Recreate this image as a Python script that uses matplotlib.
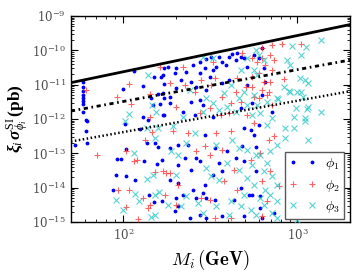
import numpy as np
import matplotlib
matplotlib.use("Agg")
import matplotlib.pyplot as plt
from matplotlib.ticker import LogLocator, NullFormatter

plt.rcParams['mathtext.fontset'] = 'cm'
plt.rcParams['font.family'] = ['DejaVu Serif']
plt.rcParams['mathtext.rm'] = 'Liberation Serif'
plt.rcParams['mathtext.it'] = 'Liberation Serif:italic'
plt.rcParams['mathtext.bf'] = 'Liberation Serif:bold'
plt.rcParams['mathtext.bfit'] = 'Liberation Serif:bold:italic'

# ---- data ----
# phi_1 : mass (GeV), log10(xi*sigma / pb)
m1 = [58.5, 58.5, 58.5, 58.5, 58.5, 58.5, 58.5, 58.5, 60.9, 115.8, 149.4, 164.1, 170.8, 100, 128.9, 170.8,
      157.6, 168.5, 170.8, 147.5, 161.9, 143.6, 170.8, 128.9,
      61.8, 102.7, 137.9, 60.9, 123.9, 61.8, 52.6, 136.1, 151.4, 157.6, 104, 92.3, 97.4, 130.6, 155.5, 166.3,
      91.1, 104, 117.4, 87.5, 139.8, 149.4, 166.3,
      180.2, 200.5, 168.5, 197.9, 251.9, 276.7, 299.8, 320.5, 352.0, 366.4, 402.5, 419.0, 448.1, 472.8, 492.2,
      442.1, 386.6, 342.6, 329.1, 295.9, 276.7, 229.3, 214.4, 245.3, 316.2, 366.4, 402.5, 512.4, 562.8, 200.5,
      262.3, 299.8, 245.3, 276.7, 288.0, 185.1, 220.3, 258.8, 329.1, 472.8, 547.9, 168.5, 185.1, 512.4,
      626.4, 601.8, 643.4, 652.1, 626.4, 716.2,
      185.1, 206.0, 235.6, 295.9, 338.1, 391.8, 479.2, 578.0, 492.2, 540.6, 562.8, 206.0, 226.3, 262.3, 276.7,
      352.0, 442.1, 492.2, 245.3, 366.4, 329.1, 578.0, 185.1, 206.0, 295.9, 472.8, 526.3, 547.9, 251.9, 288.0,
      299.8, 262.3, 200.5, 220.3, 338.1, 430.4, 206.0, 276.7, 299.8, 366.4, 492.2, 242.0, 197.9,
      601.8, 610, 610, 735.7, 626.4]
s1 = [-10.923, -11.068, -11.185, -11.301, -11.389, -11.476, -11.563, -11.796, -12.029, -10.602, -10.777, -10.777,
      -10.515, -11.126, -11.039, -10.981, -11.272, -11.243, -11.389, -11.593, -11.563, -11.389, -11.884, -11.942,
      -12.059, -12.146, -12.029, -12.350, -12.292, -12.699, -12.758, -12.699, -12.699, -12.816, -12.874, -13.165,
      -13.165, -13.224, -13.311, -13.195, -13.632, -13.661, -13.777, -14.068, -14.214, -14.418, -14.389,
      -10.486, -10.515, -10.719, -10.660, -10.427, -10.340, -10.253, -10.194, -10.194, -10.340, -10.194, -10.107,
      -10.078, -10.194, -10.223, -10.282, -10.427, -10.486, -10.573, -10.515, -10.660, -10.631, -10.864, -10.923,
      -10.777, -10.952, -10.864, -10.486, -10.136, -11.097, -11.068, -11.156, -11.505, -11.447, -11.593, -11.534,
      -11.796, -11.884, -11.942, -11.680, -11.534, -11.884, -11.360, -11.010,
      -9.932, -10.223, -10.515, -10.923, -11.301, -11.796,
      -12.845, -12.758, -12.758, -12.466, -12.845, -12.932, -12.787, -12.816, -12.262, -12.321, -12.466, -13.340,
      -13.136, -13.136, -13.224, -13.282, -13.136, -13.224, -13.486, -13.515, -13.632, -13.515, -13.777, -13.865,
      -13.923, -14.010, -14.214, -14.214, -14.068, -14.156, -14.301, -14.301, -14.301, -14.214, -14.360, -14.360,
      -14.535, -14.797, -14.884, -14.826, -14.826, -14.884, -14.680,
      -12.175, -14.243, -14.593, -14.738, -14.884]

# phi_2
m2 = [161.9, 108.4, 92.3, 141.6, 111.3, 141.6, 60.9,
      70.6, 104, 115.8, 119, 145.5, 132.4, 151.4, 168.5, 93.5, 108.4, 128.9, 104, 137.9, 141.6, 120.6,
      220.3, 329.1, 479.2, 547.9, 585.9, 185.1, 226.3, 280.4, 338.1, 448.1, 547.9, 258.8, 320.5, 366.4, 442.1,
      505.6, 547.9, 200.5, 316.2, 413.4, 472.8, 562.8, 276.7, 361.5, 512.4, 402.5,
      716.2, 818.2, 626.4, 1041, 697.3, 626.4, 735.7, 652.1, 716.2, 601.8, 643.4, 697.3, 840.4, 626.4, 669.8,
      688.0, 716.2, 601.8,
      192.6, 235.6, 342.6, 413.4, 562.8, 295.9, 262.3, 316.2, 366.4, 540.6, 185.1, 206.0, 430.4, 376.3, 173.1,
      280.4, 316.2, 200.5, 448.1, 413.4, 338.1, 175.4,
      735.7, 688.0, 610, 697.3, 626.4, 786.3, 669.8, 626.4]
s2 = [-10.486, -10.981, -11.360, -11.272, -11.563, -11.942, -11.156,
      -13.049, -12.932, -13.224, -13.195, -12.379, -12.612, -13.544, -13.515, -14.068, -14.068, -14.301, -14.564,
      -14.593, -14.505, -14.913,
      -10.486, -10.340, -10.078, -10.223, -10.340, -10.952, -11.010, -10.864, -10.806, -10.806, -10.777, -11.214,
      -11.010, -11.360, -11.214, -11.068, -11.068, -11.651, -11.680, -11.534, -11.505, -11.360, -11.826, -11.884,
      -11.884, -11.826,
      -9.845, -9.816, -9.932, -9.816, -10.136, -10.223, -10.282, -10.427, -10.573, -10.660, -10.923, -10.923,
      -10.835, -11.156, -11.301, -11.214, -11.593, -11.389,
      -12.350, -12.408, -12.408, -12.350, -12.117, -12.787, -12.932, -13.049, -12.903, -13.195, -13.573, -13.923,
      -13.486, -13.806, -14.214, -14.301, -14.360, -14.505, -14.068, -14.884, -14.884, -13.573,
      -12.495, -12.612, -12.991, -13.515, -13.806, -13.952, -14.389, -14.826]

# phi_3
m3 = [137.9, 145.5, 153.5, 108.4,
      102.7, 136.1, 157.6, 151.4, 115.8, 136.1, 147.5, 117.4, 122.2, 151.4, 159.7, 91.1, 100, 143.6, 151.4,
      288.0, 329.1, 512.4, 578.0, 562.8, 585.9, 472.8, 413.4, 492.2, 376.3, 299.8, 329.1, 460.3, 562.8, 391.8,
      512.4, 585.9, 288.0, 352.0, 442.1, 242.0, 547.9, 220.3,
      1361, 935.6, 1113, 1041, 601.8, 874.9, 910.8, 643.4, 1027, 1143, 840.4, 910.8, 1000, 1041, 1069, 765.5,
      1143, 669.8, 974, 610, 716.2, 1098, 1361,
      192.6, 258.8, 229.3, 187.6, 206.0, 342.6, 419.0, 460.3, 512.4, 578.0, 299.8, 391.8, 460.3, 547.9, 200.5,
      320.5, 352.0, 512.4, 562.8, 180.2, 229.3, 269.4, 342.6, 413.4, 472.8, 540.6, 214.4, 288.0, 402.5, 578.0,
      492.2,
      669.8, 851.8, 961, 851.8, 1143, 765.5, 610, 697.3, 669.8, 643.4, 716.2, 765.5, 652.1, 697.3, 765.5, 643.4,
      716.2, 765.5, 1000, 610,
      1098, 898.7, 1128, 961, 1098, 775.8]
s3 = [-10.719, -11.593, -11.796, -11.855,
      -12.059, -12.262, -12.262, -12.554, -12.991, -13.748, -13.632, -14.185, -14.389, -14.214, -14.127, -14.360,
      -14.651, -14.855, -14.797,
      -10.194, -10.223, -10.223, -9.990, -10.573, -10.719, -10.573, -11.010, -11.214, -11.243, -11.389, -11.534,
      -11.389, -11.301, -11.651, -11.593, -11.593, -11.796, -11.738, -11.796, -11.156, -11.884, -11.942,
      -9.699, -9.874, -9.903, -10.136, -10.136, -10.282, -10.427, -10.282, -10.806, -10.952, -11.068, -11.214,
      -11.214, -11.214, -11.360, -11.389, -11.651, -11.505, -11.680, -11.826, -11.971, -11.971, -11.796,
      -12.204, -12.408, -12.699, -12.932, -13.049, -12.758, -12.612, -12.845, -12.903, -13.049, -13.428, -13.282,
      -13.486, -13.340, -13.632, -13.661, -13.777, -13.719, -13.923, -14.505, -14.243, -14.447, -14.535, -14.389,
      -14.535, -14.651, -14.535, -14.738, -14.797, -14.797, -14.214,
      -12.175, -12.262, -12.262, -12.554, -12.612, -12.758, -13.049, -12.932, -13.282, -13.515, -13.661, -13.923,
      -14.068, -14.214, -14.389, -14.505, -14.738, -14.884, -14.942, -14.301,
      -10.864, -11.185, -11.709, -11.942, -12.059, -11.418]

# bound lines (mass endpoints, cross sections in pb)
line_m = [50, 2000]
solid_s = [1.14e-11, 5.6e-10]
dashdot_s = [1.7e-12, 5.2e-11]
dotted_s = [2.2e-13, 6.4e-12]

labels = [r'$\phi_1$', r'$\phi_2$', r'$\phi_3$']

# ---- plot ----
fig = plt.figure(figsize=(3.6, 2.75), dpi=100)
ax = fig.add_axes([0.197, 0.193, 0.775, 0.749])

ax.plot(m1, 10.0 ** np.array(s1), linestyle='none', marker='.', color='#0000ff', ms=3.5, label=labels[0], zorder=3)
ax.plot(m2, 10.0 ** np.array(s2), linestyle='none', marker='+', color='#ff3030', ms=5, mew=0.8, alpha=0.75,
        label=labels[1], zorder=3)
ax.plot(m3, 10.0 ** np.array(s3), linestyle='none', marker='x', color='#30c8c8', ms=4.5, mew=0.8, alpha=0.8,
        label=labels[2], zorder=3)

ax.plot(line_m, solid_s, color='k', lw=2.0, zorder=4)
ax.plot(line_m, dashdot_s, color='k', lw=2.0, linestyle=(0, (1.5, 1.3, 0.6, 1.3)), zorder=4)
ax.plot(line_m, dotted_s, color='k', lw=1.8, linestyle=(0, (0.6, 1.0)), zorder=4)

ax.set_xscale('log')
ax.set_yscale('log')
ax.set_xlim(50, 2000)
ax.set_ylim(1e-15, 1e-9)

ax.yaxis.set_major_locator(LogLocator(base=10, numticks=10))
ax.yaxis.set_minor_locator(LogLocator(base=10, subs=np.arange(2, 10), numticks=20))
ax.yaxis.set_minor_formatter(NullFormatter())
ax.xaxis.set_minor_locator(LogLocator(base=10, subs=np.arange(2, 10), numticks=20))
ax.xaxis.set_minor_formatter(NullFormatter())

ax.tick_params(which='both', direction='in', top=True, right=True, labelsize=8.5, labelcolor='0.3')
ax.tick_params(which='major', length=5, width=0.8)
ax.tick_params(which='minor', length=2.5, width=0.6)
for sp in ax.spines.values():
    sp.set_linewidth(1.0)

ax.set_xlabel(r'$\boldsymbol{M_i}\,\mathbf{(GeV)}$', fontsize=13.5, labelpad=4)
ax.set_ylabel(r'$\mathbfit{\xi}_i\,\mathbfit{\sigma}^{\mathrm{SI}}_{\phi_i}\,\mathbf{(pb)}$',
              fontsize=12.5, labelpad=0.8, math_fontfamily='custom')

leg = ax.legend(loc='lower right', bbox_to_anchor=(0.978, 0.013), numpoints=2, fontsize=10,
                fancybox=False, framealpha=1, edgecolor='0.35', handlelength=2.0, borderpad=0.3,
                labelspacing=0.4, handletextpad=0.6, borderaxespad=0.0)
leg.get_frame().set_linewidth(1.0)

fig.savefig('out.png', dpi=100)
